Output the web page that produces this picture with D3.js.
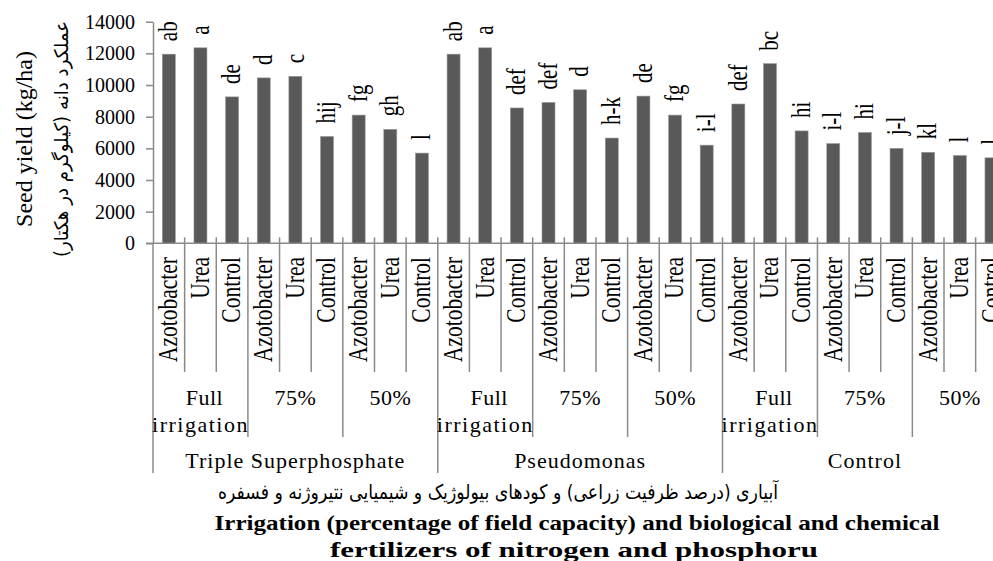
<!DOCTYPE html>
<html>
<meta charset="utf-8">
<title>Seed yield</title>
<script src="https://d3js.org/d3.v7.min.js" charset="utf-8"></script>
<style>
  body { margin: 0; background: #fff; }
  svg { display: block; overflow: hidden; }
  text { font-family: "Liberation Serif", "Times New Roman", serif; fill: #000; }
  .fa { font-family: "DejaVu Sans", "Noto Sans", sans-serif; }
  .gridline { stroke: #8a8a8a; stroke-width: 1.5; }
</style>
<body>
<script>

  // data
  var fertilizers = ["Triple Superphosphate", "Pseudomonas", "Control"];
  var irrigation = [["Full", "irrigation"], ["75%"], ["50%"]];
  var treatments = ["Azotobacter", "Urea", "Control"];
  var yieldValues = [11950, 12350, 9250, 10450, 10550, 6750, 8100, 7200, 5700,
                     11950, 12350, 8550, 8900, 9700, 6650, 9300, 8100, 6200,
                     8800, 11350, 7100, 6300, 7000, 6000, 5750, 5550, 5400];
  var letters = ["ab", "a", "de", "d", "c", "hij", "fg", "gh", "l",
                 "ab", "a", "def", "def", "d", "h-k", "de", "fg", "i-l",
                 "def", "bc", "hi", "i-l", "hi", "j-l", "kl", "l", "l"];
  var yTicks = [0, 2000, 4000, 6000, 8000, 10000, 12000, 14000];

  var width = 993, height = 561;
  var left = 153, step = 31.64, n = yieldValues.length;
  var axisY = 243.3;

  var svg = d3.select("body").append("svg")
    .attr("width", width)
    .attr("height", height);

  var x = d3.scaleBand()
    .domain(d3.range(n))
    .range([left, left + n * step]);
  var y = d3.scaleLinear().domain([0, 14000]).range([axisY, 21.7]);
  var barW = 13;
  function cx(i) { return x(i) + x.bandwidth() / 2; }

  /* y axis */
  var yAxis = svg.append("g")
    .attr("transform", "translate(" + left + ",0)")
    .call(d3.axisLeft(y).tickValues(yTicks).tickSize(7).tickSizeOuter(0).tickPadding(11).tickFormat(d3.format("d")));
  yAxis.selectAll("path, line").attr("stroke", "#8a8a8a").attr("stroke-width", 1.5);
  yAxis.selectAll("text").style("font-family", '"Liberation Serif", serif').style("font-size", "20px").attr("fill", "#000");

  /* bars */
  svg.selectAll(".bar")
    .data(yieldValues)
    .enter().append("rect")
    .attr("class", "bar")
    .attr("x", function(d, i) { return cx(i) - barW / 2; })
    .attr("y", function(d) { return y(d); })
    .attr("width", barW)
    .attr("height", function(d) { return y(0) - y(d); })
    .attr("fill", "#595959")
    .attr("stroke", "#9a9a9a")
    .attr("stroke-width", 0.6);

  /* letters above bars */
  svg.selectAll(".letter")
    .data(letters)
    .enter().append("text")
    .attr("class", "letter")
    .attr("transform", function(d, i) { return "translate(" + cx(i) + "," + (y(yieldValues[i]) - 13) + ") rotate(-90) scale(1,1.3)"; })
    .attr("dy", "0.3em")
    .attr("text-anchor", "start")
    .style("font-size", "21px")
    .text(function(d) { return d; });

  /* x axis line + category boundaries */
  svg.append("line").attr("class", "gridline")
    .attr("x1", left - 7).attr("x2", width + 20)
    .attr("y1", axisY).attr("y2", axisY);

  var bounds = d3.range(n + 1);
  svg.selectAll(".bound")
    .data(bounds)
    .enter().append("line")
    .attr("class", "gridline")
    .attr("x1", function(i) { return left + i * step; })
    .attr("x2", function(i) { return left + i * step; })
    .attr("y1", function(i) { return i === 0 ? axisY : axisY - 6; })
    .attr("y2", function(i) { return i % 9 === 0 ? 473 : (i % 3 === 0 ? 437 : 372); });

  /* treatment labels */
  svg.selectAll(".cat")
    .data(d3.range(n))
    .enter().append("text")
    .attr("class", "cat")
    .attr("transform", function(i) { return "translate(" + cx(i) + ",257) rotate(-90) scale(1,1.3)"; })
    .attr("dy", "0.3em")
    .attr("text-anchor", "end")
    .style("font-size", "21.5px")
    .text(function(i) { return treatments[i % 3]; });

  /* irrigation labels */
  var irr = svg.selectAll(".irr")
    .data(d3.range(n / 3))
    .enter().append("text")
    .attr("class", "irr")
    .attr("text-anchor", "middle")
    .style("font-size", "22px")
    .style("letter-spacing", "0.5px");
  irr.each(function(g) {
    var lines = irrigation[g % 3];
    var mid = left + (g * 3 + 1.5) * step;
    d3.select(this).selectAll("tspan")
      .data(lines)
      .enter().append("tspan")
      .attr("x", function(d) { return d === "Full" ? mid + 4 : mid; })
      .attr("y", function(d, k) { return 405 + k * 27; })
      .style("letter-spacing", function(d) { return d === "irrigation" ? "1.5px" : null; })
      .text(function(d) { return d; });
  });

  /* fertilizer labels */
  svg.selectAll(".fert")
    .data(fertilizers)
    .enter().append("text")
    .attr("class", "fert")
    .attr("x", function(d, k) { return left + (k * 9 + 4.5) * step; })
    .attr("y", 468)
    .attr("text-anchor", "middle")
    .style("font-size", "22px")
    .style("letter-spacing", "1px")
    .text(function(d) { return d; });

  /* axis titles */
  svg.append("text")
    .attr("transform", "translate(32,139) rotate(-90)")
    .attr("text-anchor", "middle")
    .style("font-size", "24px")
    .text("Seed yield (kg/ha)");

  svg.append("text")
    .attr("class", "fa")
    .attr("transform", "translate(68,139) rotate(-90)")
    .attr("text-anchor", "middle")
    .attr("textLength", 236)
    .attr("lengthAdjust", "spacingAndGlyphs")
    .style("font-size", "19px")
    .text("عملکرد دانه (کیلوگرم در هکتار)");

  svg.append("text")
    .attr("class", "fa")
    .attr("x", 498).attr("y", 499)
    .attr("text-anchor", "middle")
    .attr("textLength", 560)
    .attr("lengthAdjust", "spacingAndGlyphs")
    .style("font-size", "20px")
    .text("آبیاری (درصد ظرفیت زراعی) و کودهای بیولوژیک و شیمیایی نتیروژنه و فسفره");

  svg.append("text")
    .attr("x", 577).attr("y", 530)
    .attr("text-anchor", "middle")
    .attr("textLength", 725)
    .attr("lengthAdjust", "spacingAndGlyphs")
    .style("font-size", "21px")
    .style("font-weight", "bold")
    .text("Irrigation  (percentage of field  capacity) and biological  and chemical");

  svg.append("text")
    .attr("x", 574).attr("y", 557)
    .attr("text-anchor", "middle")
    .attr("textLength", 488)
    .attr("lengthAdjust", "spacingAndGlyphs")
    .style("font-size", "21px")
    .style("font-weight", "bold")
    .text("fertilizers  of nitrogen and phosphoru");

</script>
</body>
</html>
